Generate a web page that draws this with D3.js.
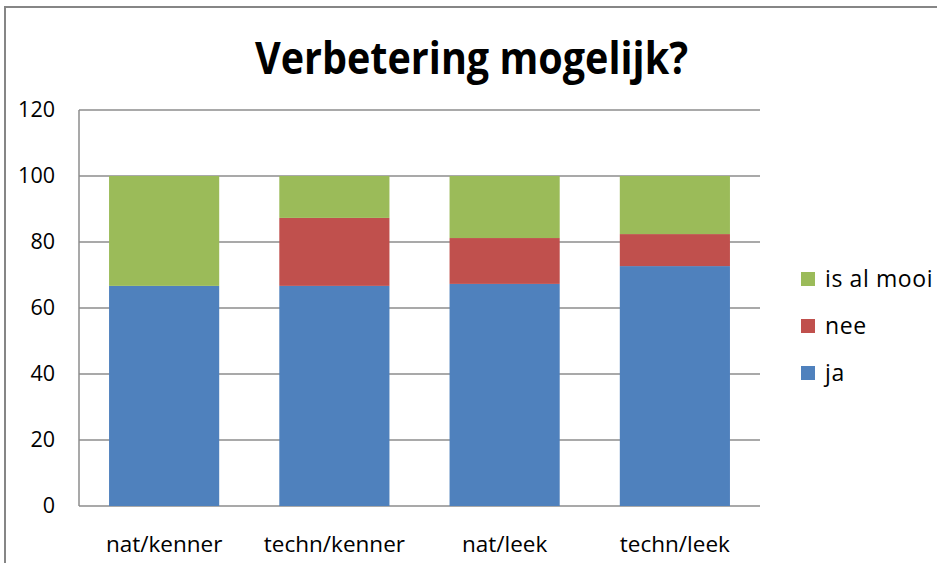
<!DOCTYPE html>
<html>
<head>
<meta charset="utf-8">
<script src="https://cdn.jsdelivr.net/npm/d3@7"></script>
<style>
  body { margin: 0; background: #fff; }
  svg { display: block; font-family: 'Open Sans', sans-serif; }
</style>
</head>
<body>
<svg id="chart" width="937" height="563"></svg>
<script>
// chart values
const categories = ['nat/kenner', 'techn/kenner', 'nat/leek', 'techn/leek'];
const jaValues = [66.7, 66.7, 67.3, 72.7];
const neeValues = [0, 20.6, 13.9, 9.7];
const mooiValues = [33.3, 12.7, 18.8, 17.6];
const seriesNames = ['ja', 'nee', 'is al mooi'];
const yTicks = [0, 20, 40, 60, 80, 100, 120];

const colors = { 'ja': '#4f81bd', 'nee': '#c0504d', 'is al mooi': '#9bbb59' };

const width = 937, height = 563;
const plot = { left: 79, right: 760, top: 110, bottom: 506 };

const svg = d3.select('#chart');

// outer chart border (runs off the right and bottom edge)
svg.append('path')
  .attr('d', `M5,${height + 5} V7 H${width + 5}`)
  .attr('fill', 'none')
  .attr('stroke', '#868686')
  .attr('stroke-width', 2);

// title - narrow font look, squeeze to the measured width
svg.append('text')
  .attr('x', 255)
  .attr('y', 74)
  .attr('font-size', 45)
  .attr('font-weight', 'bold')
  .attr('fill', '#000')
  .attr('textLength', 433)
  .attr('lengthAdjust', 'spacingAndGlyphs')
  .text('Verbetering mogelijk?');

const x = d3.scaleBand()
  .domain(categories)
  .range([plot.left, plot.right])
  .paddingInner(0.353)
  .paddingOuter(0.1765);

const y = d3.scaleLinear()
  .domain([0, 120])
  .range([plot.bottom, plot.top]);

// gridlines
svg.append('g')
  .selectAll('line')
  .data(yTicks)
  .join('line')
  .attr('x1', plot.left)
  .attr('x2', plot.right)
  .attr('y1', d => y(d))
  .attr('y2', d => y(d))
  .attr('stroke', '#8c8c8c')
  .attr('stroke-width', 1.5);

// stacked data
const rows = categories.map((c, i) => ({
  cat: c,
  'ja': jaValues[i],
  'nee': neeValues[i],
  'is al mooi': mooiValues[i]
}));
const stacked = d3.stack().keys(seriesNames)(rows);

svg.append('g')
  .selectAll('g')
  .data(stacked)
  .join('g')
  .attr('fill', d => colors[d.key])
  .selectAll('rect')
  .data(d => d)
  .join('rect')
  .attr('x', d => x(d.data.cat))
  .attr('width', x.bandwidth())
  .attr('y', d => y(d[1]))
  .attr('height', d => y(d[0]) - y(d[1]));

// y axis line
svg.append('line')
  .attr('x1', plot.left)
  .attr('x2', plot.left)
  .attr('y1', plot.top)
  .attr('y2', plot.bottom)
  .attr('stroke', '#8c8c8c')
  .attr('stroke-width', 1.5);

// axis label text
const yAxis = d3.axisLeft(y).tickValues(yTicks).tickSize(0).tickPadding(24);
const gy = svg.append('g')
  .attr('transform', `translate(${plot.left},0)`)
  .call(yAxis);
gy.select('.domain').remove();
gy.selectAll('text')
  .attr('font-family', "'Open Sans', sans-serif")
  .attr('font-size', 21.5)
  .attr('fill', '#000');

const xAxis = d3.axisBottom(x).tickSize(0).tickPadding(30);
const gx = svg.append('g')
  .attr('transform', `translate(0,${plot.bottom})`)
  .call(xAxis);
gx.select('.domain').remove();
gx.selectAll('text')
  .attr('font-family', "'Open Sans', sans-serif")
  .attr('font-size', 22.5)
  .attr('fill', '#000');

// legend, top to bottom reversed
const legendItems = seriesNames.slice().reverse();
const legend = svg.append('g')
  .selectAll('g')
  .data(legendItems)
  .join('g')
  .attr('transform', (d, i) => `translate(801,${279 + i * 47})`);
legend.append('rect')
  .attr('x', 0)
  .attr('y', -7)
  .attr('width', 14)
  .attr('height', 14)
  .attr('fill', d => colors[d]);
legend.append('text')
  .attr('x', 24)
  .attr('y', 0)
  .attr('dy', '0.35em')
  .attr('font-size', 23)
  .attr('letter-spacing', 0.6)
  .attr('fill', '#000')
  .text(d => d);
</script>
</body>
</html>
